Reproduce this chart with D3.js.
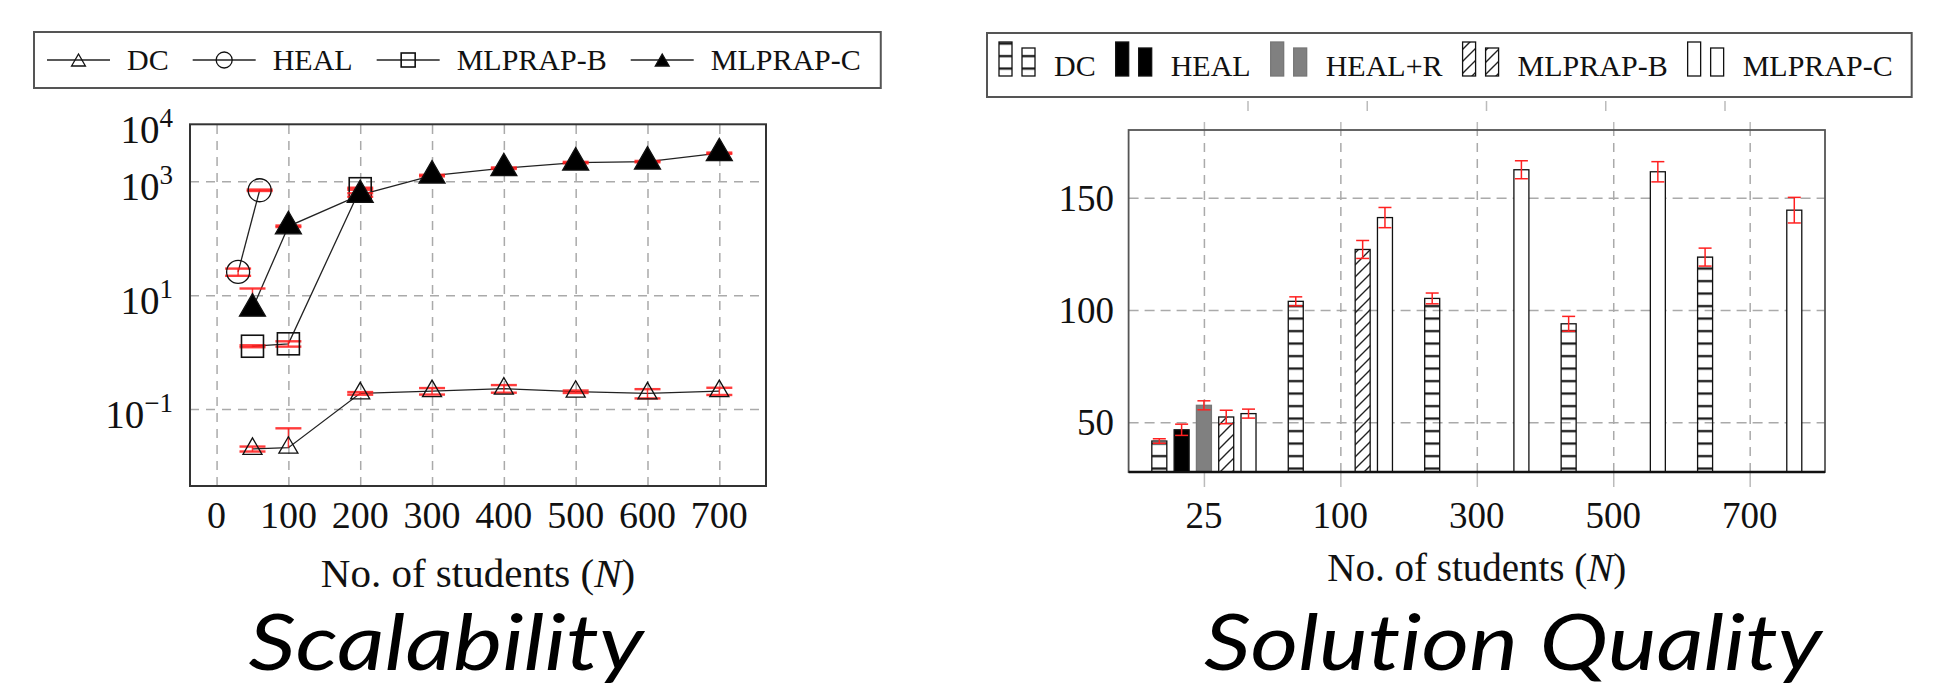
<!DOCTYPE html>
<html>
<head>
<meta charset="utf-8">
<script src="https://cdn.jsdelivr.net/npm/d3@7"></script>
<style>
  body { margin: 0; background: #fff; }
  svg text { font-family: "Liberation Serif", "Times New Roman", serif; fill: #111; }
  .title { font-family: Lato, "Open Sans", sans-serif; font-style: italic; fill: #000; font-variant-ligatures: none; }
</style>
</head>
<body>
<svg id="chart" width="1946" height="686"></svg>
<script>
// ---------- left: scalability (run time, log scale) ----------
const scaleSeries = ["DC", "HEAL", "MLPRAP-B", "MLPRAP-C"];
const dcN = [50, 100, 200, 300, 400, 500, 600, 700];
const dcTime = [0.02, 0.021, 0.189, 0.207, 0.229, 0.202, 0.189, 0.207];
const dcErr = [0.002, 0.025, 0.01, 0.027, 0.035, 0.01, 0.035, 0.03];
const healN = [30, 60];
const healTime = [25.6, 695];
const healErr = [3.7, 20];
const mlpbN = [50, 100, 200];
const mlpbTime = [1.27, 1.4, 740];
const mlpbErr = [0.05, 0.15, 30];
const mlpcN = [50, 100, 200, 300, 400, 500, 600, 700];
const mlpcTime = [5.8, 162, 575, 1259, 1695, 2128, 2213, 3106];
const mlpcErr = [7.3, 5, 40, 40, 50, 60, 60, 80];
const scaleXTicks = [0, 100, 200, 300, 400, 500, 600, 700];
const scaleYExp = [4, 3, 1, -1];
const scaleGridExp = [3, 1, -1];

// ---------- right: solution quality (bars) ----------
const qualCats = ["25", "100", "300", "500", "700"];
const qualSeries = ["DC", "HEAL", "HEAL+R", "MLPRAP-B", "MLPRAP-C"];
const qualDC = [41.7, 103.9, 105.2, 93.9, 123.6];
const qualDCErr = [1, 2, 2.4, 3.3, 4];
const qualHEAL = [46.7, null, null, null, null];
const qualHEALErr = [2.5, null, null, null, null];
const qualHEALR = [57.6, null, null, null, null];
const qualHEALRErr = [2, null, null, null, null];
const qualB = [52.4, 127, null, null, null];
const qualBErr = [3, 4, null, null, null];
const qualC = [53.9, 141.2, 162.5, 161.6, 144.5];
const qualCErr = [2, 4.5, 4, 4.5, 5.7];
const qualYTicks = [50, 100, 150];

const svg = d3.select("#chart");
const defs = svg.append("defs");

defs.append("pattern")
    .attr("id", "hlines")
    .attr("patternUnits", "userSpaceOnUse")
    .attr("width", 20)
    .attr("height", 12.5)
  .append("rect")
    .attr("x", 0).attr("y", 5)
    .attr("width", 20).attr("height", 2.2)
    .attr("fill", "#111");

defs.append("pattern")
    .attr("id", "nelines")
    .attr("patternUnits", "userSpaceOnUse")
    .attr("width", 12)
    .attr("height", 12)
  .append("path")
    .attr("d", "M-3,3 L3,-3 M0,12 L12,0 M9,15 L15,9")
    .attr("stroke", "#222")
    .attr("stroke-width", 1.4);

// ======================= LEFT CHART =======================
const L = { left: 190, right: 766, top: 124.3, bottom: 486 };

const xL = d3.scaleLinear().domain([-37, 765]).range([L.left, L.right]);
const yL = d3.scaleLog().domain([Math.pow(10, -2.35), 1e4]).range([L.bottom, L.top]);

const gL = svg.append("g");

// grid
gL.append("g")
  .attr("transform", "translate(0," + L.bottom + ")")
  .call(d3.axisBottom(xL).tickValues(scaleXTicks).tickSize(-(L.bottom - L.top)).tickFormat(""))
  .call(g => g.select(".domain").remove())
  .call(g => g.selectAll("line").attr("stroke", "#aaa").attr("stroke-width", 1.5).attr("stroke-dasharray", "9,7"));

gL.append("g")
  .attr("transform", "translate(" + L.left + ",0)")
  .call(d3.axisLeft(yL).tickValues(scaleGridExp.map(e => Math.pow(10, e))).tickSize(-(L.right - L.left)).tickFormat(""))
  .call(g => g.select(".domain").remove())
  .call(g => g.selectAll("line").attr("stroke", "#aaa").attr("stroke-width", 1.5).attr("stroke-dasharray", "9,7"));

// x tick labels
gL.selectAll(".xlab")
  .data(scaleXTicks)
  .enter()
  .append("text")
  .attr("x", d => xL(d))
  .attr("y", 528)
  .attr("text-anchor", "middle")
  .style("font-size", "38px")
  .text(d => d);

// y tick labels 10^e
const ylab = gL.selectAll(".ylab")
  .data(scaleYExp)
  .enter()
  .append("text")
  .attr("x", 173)
  .attr("y", d => yL(Math.pow(10, d)) + 19)
  .attr("text-anchor", "end")
  .style("font-size", "39px");
ylab.append("tspan").text("10");
ylab.append("tspan")
  .attr("dy", -16)
  .style("font-size", "27px")
  .text(d => d < 0 ? "\u2212" + Math.abs(d) : d);

// axis title
const tl = gL.append("text")
  .attr("x", (L.left + L.right) / 2)
  .attr("y", 587)
  .attr("text-anchor", "middle")
  .style("font-size", "41px");
tl.append("tspan").text("No. of students (");
tl.append("tspan").style("font-style", "italic").text("N");
tl.append("tspan").text(")");

const scaleData = [
  { name: "DC", n: dcN, v: dcTime, e: dcErr, mark: "tri", r: 11, fill: "none" },
  { name: "HEAL", n: healN, v: healTime, e: healErr, mark: "circle", r: 11.5, fill: "none" },
  { name: "MLPRAP-B", n: mlpbN, v: mlpbTime, e: mlpbErr, mark: "square", r: 11, fill: "none" },
  { name: "MLPRAP-C", n: mlpcN, v: mlpcTime, e: mlpcErr, mark: "tri", r: 15, fill: "#000" }
];

function drawMark(g, type, r, fill) {
  if (type === "tri") {
    g.append("path")
      .attr("d", "M0," + (-r) + " L" + (0.866 * r) + "," + (0.5 * r) + " L" + (-0.866 * r) + "," + (0.5 * r) + " Z")
      .attr("fill", fill).attr("stroke", "#111").attr("stroke-width", 1.3);
  } else if (type === "circle") {
    g.append("circle").attr("r", r).attr("fill", fill).attr("stroke", "#111").attr("stroke-width", 1.3);
  } else {
    g.append("rect").attr("x", -r).attr("y", -r).attr("width", 2 * r).attr("height", 2 * r)
      .attr("fill", fill).attr("stroke", "#111").attr("stroke-width", 1.6);
  }
}

const line = d3.line().x(d => xL(d[0])).y(d => yL(d[1]));

scaleData.forEach(s => {
  const pts = s.n.map((n, i) => [n, s.v[i], s.e[i]]);
  gL.append("path")
    .attr("d", line(pts))
    .attr("fill", "none")
    .attr("stroke", "#222")
    .attr("stroke-width", 1.3);

  const eb = gL.append("g").attr("stroke", "#ff1a1a").attr("stroke-width", 2.4).attr("stroke-opacity", 0.85);
  pts.forEach(p => {
    const cx = xL(p[0]);
    const top = yL(p[1] + p[2]);
    const low = p[1] - p[2] > 0 ? yL(p[1] - p[2]) : null;
    eb.append("line").attr("x1", cx).attr("x2", cx).attr("y1", top).attr("y2", low === null ? yL(p[1]) : low).attr("stroke-width", 1.5);
    eb.append("line").attr("x1", cx - 13).attr("x2", cx + 13).attr("y1", top).attr("y2", top);
    if (low !== null) eb.append("line").attr("x1", cx - 13).attr("x2", cx + 13).attr("y1", low).attr("y2", low);
  });

  pts.forEach(p => {
    const m = gL.append("g").attr("transform", "translate(" + xL(p[0]) + "," + yL(p[1]) + ")");
    drawMark(m, s.mark, s.r, s.fill);
  });
});

// frame
gL.append("rect")
  .attr("x", L.left).attr("y", L.top)
  .attr("width", L.right - L.left).attr("height", L.bottom - L.top)
  .attr("fill", "none").attr("stroke", "#333").attr("stroke-width", 2);

// legend
const legL = svg.append("g");
const legLBox = legL.append("rect");
let lx = 47;
scaleData.forEach(s => {
  legL.append("line").attr("x1", lx).attr("x2", lx + 63).attr("y1", 60).attr("y2", 60)
    .attr("stroke", "#222").attr("stroke-width", 1.3);
  const m = legL.append("g").attr("transform", "translate(" + (lx + 31.5) + "," + (s.mark === "tri" ? 62 : 60) + ")");
  drawMark(m, s.mark, s.mark === "square" ? 7 : 8, s.fill);
  const t = legL.append("text").attr("x", lx + 80).attr("y", 70).style("font-size", "30px").text(s.name);
  lx = lx + 80 + t.node().getComputedTextLength() + 24;
});
legLBox.attr("x", 34).attr("y", 32).attr("width", lx - 4 - 34).attr("height", 56)
  .attr("fill", "#fff").attr("stroke", "#555").attr("stroke-width", 2);

svg.append("text")
  .attr("class", "title")
  .attr("x", 446)
  .attr("y", 670)
  .attr("text-anchor", "middle")
  .attr("textLength", 395)
  .attr("lengthAdjust", "spacingAndGlyphs")
  .style("font-size", "78px")
  .text("Scalability");

// ======================= RIGHT CHART =======================
const R = { left: 1128.6, right: 1825, top: 130, bottom: 472 };

const xR = d3.scalePoint().domain(qualCats).range([R.left, R.right]).padding(0.552);
const yR = d3.scaleLinear().domain([27.9, 180.2]).range([R.bottom, R.top]);
const ghostX = d3.scalePoint().domain(qualCats).range([1248, 1725]);

const gR = svg.append("g");

// faint ticks left over under the legend
gR.selectAll(".ghost")
  .data(qualCats)
  .enter()
  .append("line")
  .attr("x1", d => ghostX(d)).attr("x2", d => ghostX(d))
  .attr("y1", 101).attr("y2", 111)
  .attr("stroke", "#bbb").attr("stroke-width", 1.5);

// grid
gR.append("g")
  .attr("transform", "translate(0," + R.bottom + ")")
  .call(d3.axisBottom(xR).tickSize(-(R.bottom - R.top)).tickFormat(""))
  .call(g => g.select(".domain").remove())
  .call(g => g.selectAll("line").attr("stroke", "#aaa").attr("stroke-width", 1.5).attr("stroke-dasharray", "9,7"));

gR.append("g")
  .attr("transform", "translate(" + R.left + ",0)")
  .call(d3.axisLeft(yR).tickValues(qualYTicks).tickSize(-(R.right - R.left)).tickFormat(""))
  .call(g => g.select(".domain").remove())
  .call(g => g.selectAll("line").attr("stroke", "#aaa").attr("stroke-width", 1.5).attr("stroke-dasharray", "10,6"));

// outer ticks
gR.append("g")
  .attr("transform", "translate(0," + R.bottom + ")")
  .call(d3.axisBottom(xR).tickSize(15).tickFormat(""))
  .call(g => g.select(".domain").remove())
  .call(g => g.selectAll("line").attr("stroke", "#bbb").attr("stroke-width", 1.5));
gR.append("g")
  .attr("transform", "translate(0," + R.top + ")")
  .call(d3.axisTop(xR).tickSize(8).tickFormat(""))
  .call(g => g.select(".domain").remove())
  .call(g => g.selectAll("line").attr("stroke", "#bbb").attr("stroke-width", 1.5));

const qualData = [
  { name: "DC", v: qualDC, e: qualDCErr, fill: "url(#hlines)" },
  { name: "HEAL", v: qualHEAL, e: qualHEALErr, fill: "#000" },
  { name: "HEAL+R", v: qualHEALR, e: qualHEALRErr, fill: "#808080" },
  { name: "MLPRAP-B", v: qualB, e: qualBErr, fill: "url(#nelines)" },
  { name: "MLPRAP-C", v: qualC, e: qualCErr, fill: "#fff" }
];
const barStep = 22.3;
const barW = 15;

qualData.forEach((s, si) => {
  const rows = qualCats.map((c, i) => ({ c: c, v: s.v[i], e: s.e[i] })).filter(d => d.v !== null);
  const off = (si - 2) * barStep;
  gR.selectAll(".bar" + si)
    .data(rows)
    .enter()
    .append("rect")
    .attr("x", d => xR(d.c) + off - barW / 2)
    .attr("y", d => yR(d.v))
    .attr("width", barW)
    .attr("height", d => R.bottom - yR(d.v))
    .attr("fill", s.fill)
    .attr("stroke", s.name === "HEAL+R" ? "#777" : "#111")
    .attr("stroke-width", 1.3);

  const eb = gR.append("g").attr("stroke", "#ff2020").attr("stroke-width", 1.5);
  rows.forEach(d => {
    const cx = xR(d.c) + off;
    const t = yR(d.v + d.e), b = yR(d.v - d.e);
    eb.append("line").attr("x1", cx).attr("x2", cx).attr("y1", t).attr("y2", b);
    eb.append("line").attr("x1", cx - 6.5).attr("x2", cx + 6.5).attr("y1", t).attr("y2", t);
    eb.append("line").attr("x1", cx - 6.5).attr("x2", cx + 6.5).attr("y1", b).attr("y2", b);
  });
});

// frame
gR.append("rect")
  .attr("x", R.left).attr("y", R.top)
  .attr("width", R.right - R.left).attr("height", R.bottom - R.top)
  .attr("fill", "none").attr("stroke", "#555").attr("stroke-width", 1.8);
gR.append("line")
  .attr("x1", R.left).attr("x2", R.right).attr("y1", R.bottom).attr("y2", R.bottom)
  .attr("stroke", "#111").attr("stroke-width", 2.5);

// labels
gR.selectAll(".xlab")
  .data(qualCats)
  .enter()
  .append("text")
  .attr("x", d => xR(d))
  .attr("y", 528)
  .attr("text-anchor", "middle")
  .style("font-size", "37px")
  .text(d => d);

gR.selectAll(".ylab")
  .data(qualYTicks)
  .enter()
  .append("text")
  .attr("x", 1114)
  .attr("y", d => yR(d) + 13)
  .attr("text-anchor", "end")
  .style("font-size", "37px")
  .text(d => d);

const tr = gR.append("text")
  .attr("x", (R.left + R.right) / 2)
  .attr("y", 581)
  .attr("text-anchor", "middle")
  .style("font-size", "39px");
tr.append("tspan").text("No. of students (");
tr.append("tspan").style("font-style", "italic").text("N");
tr.append("tspan").text(")");

// legend
const legR = svg.append("g");
const legRBox = legR.append("rect");
let rx = 999;
qualData.forEach(s => {
  [[0, 42, 34], [23, 48, 28]].forEach(b => {
    legR.append("rect")
      .attr("x", rx + b[0]).attr("y", b[1])
      .attr("width", 13).attr("height", b[2])
      .attr("fill", s.fill)
      .attr("stroke", s.name === "HEAL+R" ? "#777" : "#111")
      .attr("stroke-width", 1.3);
  });
  const t = legR.append("text").attr("x", rx + 55).attr("y", 76).style("font-size", "30px").text(s.name);
  rx = rx + 55 + t.node().getComputedTextLength() + 20;
});
legRBox.attr("x", 987).attr("y", 33).attr("width", rx - 1 - 987).attr("height", 64)
  .attr("fill", "#fff").attr("stroke", "#555").attr("stroke-width", 2);

svg.append("text")
  .attr("class", "title")
  .attr("x", 1513)
  .attr("y", 670)
  .attr("text-anchor", "middle")
  .attr("textLength", 618)
  .attr("lengthAdjust", "spacingAndGlyphs")
  .style("font-size", "78px")
  .text("Solution Quality");
</script>
</body>
</html>
